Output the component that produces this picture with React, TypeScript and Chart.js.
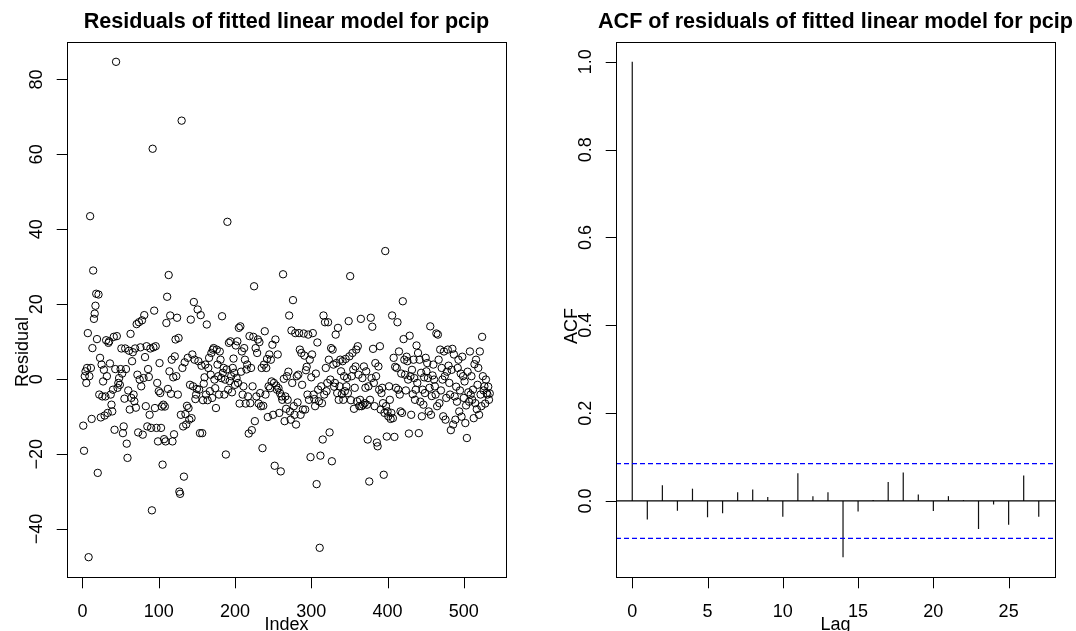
import React, { useEffect, useRef } from "react";
import { Chart, registerables } from "chart.js";

Chart.register(...registerables);

// ---------- data ----------
const residuals: number[] = [
  -12.4, -19.1, 0.8, 2.1, -1.0, 3.0, 12.3, -47.5, 0.8, 43.5,
  3.0, -10.6, 8.3, 29.0, 16.1, 17.5, 19.6, 22.8, 10.7, -25.0,
  22.6, -4.1, 5.7, -10.2, 3.9, -4.6, -0.6, 2.5, -9.7, -4.6,
  10.4, 0.8, -9.0, 9.7, 10.1, 4.2, -4.1, -6.8, -8.6, -2.8,
  11.3, -13.5, 2.7, 84.7, 11.5, -2.3, -1.0, 0.3, -1.5, 2.7,
  8.2, 1.5, -14.4, -12.6, -5.2, 8.2, 2.7, -17.2, -21.0, -3.0,
  7.6, -8.1, 12.1, -5.0, 4.8, 7.2, -4.1, -5.9, 8.2, -7.6,
  14.7, 1.2, -14.2, 15.2, -0.1, 8.5, -1.9, 15.7, -14.8, 0.3,
  17.1, 5.9, -7.2, 8.8, -12.6, 2.7, 0.6, -9.5, 8.2, -13.0,
  -35.0, 61.5, 8.5, 18.3, -7.7, 8.8, -13.0, -1.0, -16.6, -3.2,
  4.3, -3.7, -13.0, -7.3, -22.8, -6.8, -16.0, -7.3, -16.6, 15.0,
  22.0, -2.6, 27.8, 2.1, 17.0, -3.9, 5.2, -16.6, 0.5, -14.7,
  6.1, 10.6, 0.8, 16.4, -4.1, 11.0, -30.0, -30.6, -9.5, 69.0,
  3.0, -12.6, -26.0, 4.5, -9.3, -12.1, -7.1, 5.7, -7.7, -10.8,
  -1.5, 15.9, -10.4, 6.6, -1.9, 20.6, 5.2, -5.3, -4.1, -2.6,
  18.6, 4.8, -2.8, -14.4, 17.1, 3.6, -14.4, -5.6, -1.2, 0.5,
  3.9, -4.1, 14.6, -5.6, 3.0, 5.7, -3.2, 1.2, 7.0, -5.0,
  7.9, 8.3, -0.1, -2.4, -7.7, 7.9, 3.9, 0.8, -4.1, 7.4,
  5.2, 0.3, 16.8, 1.7, 3.0, -4.1, -0.1, -20.1, 2.6, 42.0,
  -2.8, 9.7, -0.5, 10.1, 0.8, -3.5, 3.0, 5.5, 1.7, -1.5,
  9.0, 0.3, 10.1, -1.0, 13.7, -6.5, 14.1, 2.0, 7.4, -4.1,
  -1.9, 8.3, 5.2, -6.5, 2.6, 3.9, -4.6, -14.5, 11.5, -6.4,
  3.0, -13.6, -1.9, 11.3, 24.8, -11.2, 8.3, -4.6, 7.0, 10.6,
  -6.5, 9.9, -3.7, -7.2, 3.0, -18.4, -7.1, 3.9, 12.8, -4.1,
  3.0, 5.4, -10.1, -1.9, 6.6, -2.4, 5.2, -0.6, 9.2, -9.5,
  -1.0, -23.1, 10.6, -1.7, -2.8, 6.6, -2.4, -9.0, -3.7, -24.6,
  -4.6, -5.5, 28.0, 0.1, -11.2, -4.6, -7.9, 0.8, -5.5, 2.0,
  17.0, -8.6, -10.8, 13.0, -1.0, 21.1, -7.2, -9.5, 12.3, -12.1,
  0.8, -6.2, 1.2, 12.3, 7.9, -9.5, 7.0, -1.5, -8.1, 12.2,
  6.3, -8.1, 2.4, 3.3, -4.1, 11.9, -5.5, 5.2, -20.8, 0.5,
  6.6, 12.3, -4.1, -5.3, -7.2, 1.5, -28.0, 9.8, -2.8, -5.9,
  -45.0, -20.4, -1.9, -6.4, -16.1, 17.0, -4.1, 15.2, 3.0, -3.2,
  -1.0, 15.2, 5.2, -14.2, -0.1, 8.3, -21.9, 7.9, 3.9, -2.0,
  -1.0, 11.9, 4.3, -3.7, 13.7, -5.5, -1.9, 5.2, 2.1, -4.0,
  4.8, -5.5, 0.8, -3.2, 5.4, -1.9, 0.3, -3.7, 15.5, 6.1,
  27.5, -5.6, 0.8, 7.0, 2.6, -7.9, -2.3, 3.4, 7.9, -5.9,
  8.8, 1.2, -7.2, -5.5, 16.1, -7.2, 0.3, -6.8, 3.4, -6.4,
  -2.3, 2.1, -6.8, -16.1, -1.9, -27.3, -5.5, 16.4, 0.3, 14.0,
  8.1, -1.0, -7.2, 4.3, 0.8, -16.9, -17.9, 3.4, -2.8, 8.8,
  -8.1, -3.7, -2.3, -6.4, -25.5, -9.0, 34.2, -7.2, -15.3, -8.6,
  -9.9, -1.9, -5.5, -10.6, -9.0, 17.0, -10.4, 5.7, -15.4, 3.3,
  -2.3, 3.0, 15.2, -2.8, 7.4, -4.1, -8.6, 1.5, -9.0, 20.8,
  10.7, 5.2, 1.2, -3.0, 6.0, 4.8, -0.1, -14.5, 11.6, 0.8,
  -9.5, 2.5, -4.0, 5.2, 0.3, -5.5, -2.8, 9.0, -1.0, 7.0,
  -14.4, 5.2, -6.0, 1.7, -9.9, -2.8, -6.8, 0.5, -3.7, 5.7,
  2.1, 4.3, 0.3, -8.6, -2.3, 14.1, -9.5, -4.5, 1.0, 3.9,
  -0.1, -1.9, -4.1, 12.2, -7.2, 11.9, 5.2, -6.4, 7.9, -3.0,
  3.0, -0.1, -9.9, 7.4, 0.8, -10.8, -5.0, 2.0, 7.9, 3.6,
  -1.0, -4.1, -13.6, 2.5, 8.1, -12.1, 6.6, -4.6, -10.8, -2.0,
  -6.0, 3.0, 5.2, -8.6, -3.0, 1.5, -10.0, 6.0, 0.8, -5.0,
  -0.6, -11.7, -7.0, -15.7, 2.0, -3.5, -6.0, 7.4, -4.1, 0.8,
  -5.5, -2.8, -10.4, 4.0, -6.4, 5.2, -8.0, -1.5, 3.0, -9.5,
  7.4, -4.1, -7.2, 11.3, 0.8, -3.0, -1.9, -6.5, -0.1, -3.7,
  -4.1, -2.0, -5.5, -3.8,
];

const acfLags: number[] = [
  0, 1, 2, 3, 4, 5, 6, 7, 8, 9, 10, 11, 12, 13,
  14, 15, 16, 17, 18, 19, 20, 21, 22, 23, 24, 25, 26, 27,
];
const acfValues: number[] = [
  1.0, -0.042, 0.036, -0.022, 0.028, -0.037, -0.028, 0.02, 0.026, 0.009, -0.036, 0.063, 0.011, 0.02,
  -0.128, -0.024, 0.002, 0.043, 0.065, 0.015, -0.023, 0.011, 0.002, -0.064, -0.008, -0.054, 0.058, -0.036,
];
const ciBound = 0.085;

const residXTicks: number[] = [0, 100, 200, 300, 400, 500];
const residYTicks: number[] = [-40, -20, 0, 20, 40, 60, 80];
const acfXTicks: number[] = [0, 5, 10, 15, 20, 25];
const acfYTicks: number[] = [0, 0.2, 0.4, 0.6, 0.8, 1.0];

const titleLeft = "Residuals of fitted linear model for pcip";
const titleRight = "ACF of residuals of fitted linear model for pcip";

// ---------- helpers ----------
const FONT = '"Liberation Sans", Arial, Helvetica, sans-serif';

function rRange(vals: number[]): [number, number] {
  const lo = Math.min(...vals);
  const hi = Math.max(...vals);
  const d = (hi - lo) * 0.04;
  return [lo - d, hi + d];
}

const fmtInt = (v: number) => (v < 0 ? "\u2212" + Math.abs(v) : String(v));
const fmt1 = (v: number) => v.toFixed(1);

type FrameOpts = {
  title: string;
  xlab: string;
  ylab: string;
  xTicks: number[];
  yTicks: number[];
  xFmt: (v: number) => string;
  yFmt: (v: number) => string;
  ylabCenterY: number;
};

function makeFrame(o: FrameOpts) {
  return {
    id: "rframe",
    afterDraw(chart: any) {
      const { ctx, chartArea: a, scales } = chart;
      const xs = scales.x;
      const ys = scales.y;
      ctx.save();
      ctx.strokeStyle = "#000";
      ctx.fillStyle = "#000";
      ctx.lineWidth = 1;
      const L = Math.round(a.left) + 0.5;
      const R = Math.round(a.right) + 0.5;
      const T = Math.round(a.top) + 0.5;
      const B = Math.round(a.bottom) + 0.5;
      ctx.strokeRect(L, T, R - L, B - T);
      const tl = 10.8;
      ctx.beginPath();
      o.xTicks.forEach((t) => {
        const px = Math.round(xs.getPixelForValue(t)) + 0.5;
        ctx.moveTo(px, B);
        ctx.lineTo(px, B + tl);
      });
      o.yTicks.forEach((t) => {
        const py = Math.round(ys.getPixelForValue(t)) + 0.5;
        ctx.moveTo(L - tl, py);
        ctx.lineTo(L, py);
      });
      ctx.stroke();

      ctx.font = `18px ${FONT}`;
      ctx.textAlign = "center";
      ctx.textBaseline = "alphabetic";
      o.xTicks.forEach((t) => {
        ctx.fillText(o.xFmt(t), xs.getPixelForValue(t), a.bottom + 39.5);
      });
      o.yTicks.forEach((t) => {
        ctx.save();
        ctx.translate(a.left - 25.5, ys.getPixelForValue(t));
        ctx.rotate(-Math.PI / 2);
        ctx.fillText(o.yFmt(t), 0, 0);
        ctx.restore();
      });
      ctx.fillText(o.xlab, (a.left + a.right) / 2, a.bottom + 52.8);
      ctx.save();
      ctx.translate(a.left - 39.5, o.ylabCenterY);
      ctx.rotate(-Math.PI / 2);
      ctx.fillText(o.ylab, 0, 0);
      ctx.restore();

      ctx.font = `bold 21.6px ${FONT}`;
      ctx.fillText(o.title, (a.left + a.right) / 2, 28);
      ctx.restore();
    },
  };
}

// ---------- component ----------
export default function App() {
  const leftRef = useRef<HTMLCanvasElement | null>(null);
  const rightRef = useRef<HTMLCanvasElement | null>(null);

  useEffect(() => {
    const n = residuals.length;
    const [xMinL, xMaxL] = rRange([1, n]);
    const [yMinL, yMaxL] = rRange(residuals);

    const left = new Chart(leftRef.current as HTMLCanvasElement, {
      type: "scatter",
      data: {
        datasets: [
          {
            data: residuals.map((v, i) => ({ x: i + 1, y: v })),
            pointRadius: 3.7,
            pointHoverRadius: 3.7,
            borderWidth: 1,
            borderColor: "#000",
            backgroundColor: "rgba(0,0,0,0)",
            pointStyle: "circle",
          },
        ],
      },
      options: {
        responsive: false,
        maintainAspectRatio: false,
        animation: false,
        devicePixelRatio: 1,
        layout: { padding: { left: 67, right: 32, top: 42, bottom: 54 } },
        plugins: { legend: { display: false }, tooltip: { enabled: false }, title: { display: false } },
        scales: {
          x: { type: "linear", display: false, min: xMinL, max: xMaxL },
          y: { type: "linear", display: false, min: yMinL, max: yMaxL },
        },
      },
      plugins: [
        makeFrame({
          title: titleLeft,
          xlab: "Index",
          ylab: "Residual",
          xTicks: residXTicks,
          yTicks: residYTicks,
          xFmt: fmtInt,
          yFmt: fmtInt,
          ylabCenterY: 352,
        }),
      ],
    } as any);

    const [xMinR, xMaxR] = rRange(acfLags);
    const [yMinR, yMaxR] = rRange([...acfValues, ciBound, -ciBound]);

    const spikes = acfLags.map((lag, i) => ({
      data: [
        { x: lag, y: 0 },
        { x: lag, y: acfValues[i] },
      ],
      showLine: true,
      borderColor: "#111",
      borderWidth: 1.2,
      pointRadius: 0,
    }));

    const right = new Chart(rightRef.current as HTMLCanvasElement, {
      type: "scatter",
      data: {
        datasets: [
          {
            data: [
              { x: xMinR, y: 0 },
              { x: xMaxR, y: 0 },
            ],
            showLine: true,
            borderColor: "#000",
            borderWidth: 1.2,
            pointRadius: 0,
          },
          {
            data: [
              { x: xMinR, y: ciBound },
              { x: xMaxR, y: ciBound },
            ],
            showLine: true,
            borderColor: "#0000ff",
            borderWidth: 1.2,
            borderDash: [5, 3],
            pointRadius: 0,
          },
          {
            data: [
              { x: xMinR, y: -ciBound },
              { x: xMaxR, y: -ciBound },
            ],
            showLine: true,
            borderColor: "#0000ff",
            borderWidth: 1.2,
            borderDash: [5, 3],
            pointRadius: 0,
          },
          ...spikes,
        ],
      },
      options: {
        responsive: false,
        maintainAspectRatio: false,
        animation: false,
        devicePixelRatio: 1,
        layout: { padding: { left: 78, right: 21, top: 42, bottom: 54 } },
        plugins: { legend: { display: false }, tooltip: { enabled: false }, title: { display: false } },
        scales: {
          x: { type: "linear", display: false, min: xMinR, max: xMaxR },
          y: { type: "linear", display: false, min: yMinR, max: yMaxR },
        },
      },
      plugins: [
        makeFrame({
          title: titleRight,
          xlab: "Lag",
          ylab: "ACF",
          xTicks: acfXTicks,
          yTicks: acfYTicks,
          xFmt: (v) => String(v),
          yFmt: fmt1,
          ylabCenterY: 326,
        }),
      ],
    } as any);

    return () => {
      left.destroy();
      right.destroy();
    };
  }, []);

  return (
    <div style={{ position: "absolute", left: 0, top: 0, width: 1076, height: 631, background: "#fff", overflow: "hidden" }}>
      <canvas
        ref={leftRef}
        width={538}
        height={631}
        style={{ position: "absolute", left: 0, top: 0, width: 538, height: 631 }}
      />
      <canvas
        ref={rightRef}
        width={538}
        height={631}
        style={{ position: "absolute", left: 538, top: 0, width: 538, height: 631 }}
      />
    </div>
  );
}
